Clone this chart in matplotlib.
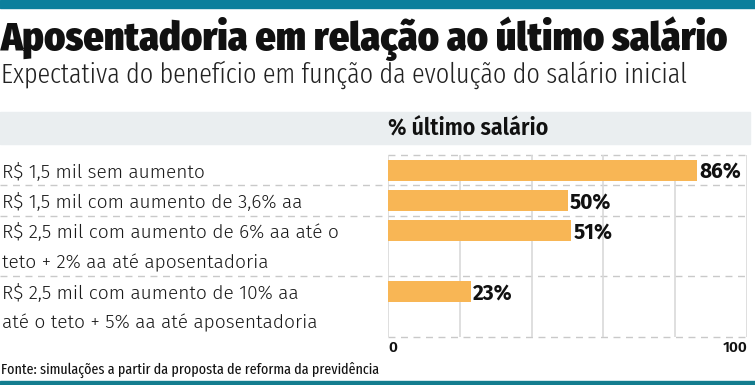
import matplotlib
matplotlib.use('Agg')
import matplotlib.pyplot as plt
from matplotlib.patches import Rectangle

title = 'Aposentadoria em relação ao último salário'
subtitle = 'Expectativa do benefício em função da evolução do salário inicial'
header = '% último salário'
source = 'Fonte: simulações a partir da proposta de reforma da previdência'

categories = [
    'R$ 1,5 mil sem aumento',
    'R$ 1,5 mil com aumento de 3,6% aa',
    'R$ 2,5 mil com aumento de 6% aa até o\nteto + 2% aa até aposentadoria',
    'R$ 2,5 mil com aumento de 10% aa\naté o teto + 5% aa até aposentadoria',
]
values = [86, 50, 51, 23]
value_labels = ['86%', '50%', '51%', '23%']
tick_values = [0, 20, 40, 60, 80, 100]
tick_labels = ['0', '', '', '', '', '100']

W, H = 755, 385
TEAL = '#0b7f9c'
BAR = '#f8b655'
GRID = '#d9d9d9'
COND = ['Fira Sans Extra Condensed', 'DejaVu Sans']
FIRA = ['Fira Sans', 'DejaVu Sans']

fig = plt.figure(figsize=(W / 100, H / 100), dpi=100)
fig.patch.set_facecolor('white')
renderer = fig.canvas.get_renderer()


def fx(px):
    return px / W


def fy(py):
    return 1 - py / H


def fit(t, width_px):
    # scale font size so the text spans the same width as in the reference
    w = t.get_window_extent(renderer).width
    t.set_fontsize(t.get_fontsize() * width_px / w)


# top / bottom teal stripes and header band
fig.patches.append(Rectangle((0, fy(8)), 1, 8 / H, transform=fig.transFigure,
                             color=TEAL, zorder=0))
fig.patches.append(Rectangle((0, 0), 1, 4 / H, transform=fig.transFigure,
                             color='#137d8f', zorder=0))
fig.patches.append(Rectangle((0, fy(144)), fx(750), 32 / H, transform=fig.transFigure,
                             color='#eaeef0', zorder=0))

t = fig.text(fx(1), fy(50), title, fontsize=22, fontweight=900,
             family=['Fira Sans Condensed', 'DejaVu Sans'], va='baseline', ha='left',
             color='#111111')
fit(t, 726)
t = fig.text(fx(1), fy(82.5), subtitle, fontsize=19, fontweight=300,
             family=COND, va='baseline', ha='left', color='#222222')
fit(t, 689)
t = fig.text(fx(388), fy(129), header, fontsize=14, fontweight=600,
             family=['Fira Sans Condensed', 'DejaVu Sans'], va='center', ha='left',
             color='#111111')
fit(t, 160)
t = fig.text(fx(1), fy(370), source, fontsize=10.5, fontweight=400,
             family=COND, va='center', ha='left', color='#111111')
fit(t, 381)

# chart area
x0, x1 = 388, 747
y0, y1 = 155, 337
ax = fig.add_axes([fx(x0), fy(y1), fx(x1 - x0), (y1 - y0) / H])
ax.set_facecolor('none')

line_counts = [len(c.split('\n')) for c in categories]
total_lines = sum(line_counts)
starts = [sum(line_counts[:i]) for i in range(len(categories))]

ax.set_xlim(0, 100)
ax.set_ylim(total_lines, 0)

bar_pos = [s + 0.5 for s in starts]
ax.barh(bar_pos, values, height=0.7, color=BAR, zorder=3)

for p, v, lab in zip(bar_pos, values, value_labels):
    ax.text(v + 0.6, p + 0.08, lab, fontsize=15, fontweight=700,
            family=FIRA, va='center', ha='left', color='#111111')

# row labels
row_texts = []
for s, c in zip(starts, categories):
    for k, line in enumerate(c.split('\n')):
        row_texts.append(ax.text(-x0 / (x1 - x0) * 100 + 0.5, s + k + 0.55, line,
                                 fontsize=13.5, family=FIRA, fontweight=300,
                                 va='center', ha='left', color='#1a1a1a', clip_on=False))
longest = row_texts[2]
scale = 338 / longest.get_window_extent(renderer).width
for rt in row_texts:
    rt.set_fontsize(rt.get_fontsize() * scale)

# row separators
for s in starts[1:]:
    ax.axhline(s, xmin=-x0 / (x1 - x0), xmax=1, color='#c9c9c9', lw=1,
               dashes=(5, 4), clip_on=False, zorder=1)
for s in [0, total_lines]:
    ax.axhline(s, color='#c9c9c9', lw=1, dashes=(5, 4), clip_on=False, zorder=1)

ax.set_xticks(tick_values)
ax.set_xticklabels(tick_labels)
ax.set_yticks([])
ax.tick_params(axis='x', length=0, pad=3, labelsize=11, labelcolor='#111111')
for tl, ha in zip(ax.get_xticklabels(), ['left', 'center', 'center', 'center', 'center', 'right']):
    tl.set_ha(ha)
    tl.set_fontweight(600)
    tl.set_family(FIRA)
ax.grid(axis='x', color=GRID, lw=1.2, zorder=0)
for sp in ax.spines.values():
    sp.set_visible(False)

fig.savefig('out.png', dpi=100)
